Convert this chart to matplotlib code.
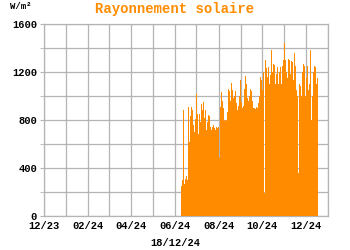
import pandas as pd
import matplotlib
matplotlib.use('Agg')
import matplotlib.pyplot as plt
import matplotlib.dates as mdates
import matplotlib.transforms as mtransforms
from matplotlib.ticker import MultipleLocator

# Daily solar radiation (W/m2), one value per day from 9 June 2024
start_day = '2024-06-09'
rayonnement = [
    790, 250, 300, 280, 880, 270, 310, 290, 330, 300,
    910, 950, 620, 830, 280, 910, 880, 760, 870, 700,
    810, 760, 1020, 850, 680, 700, 850, 780, 860, 930,
    880, 950, 900, 820, 880, 760, 720, 780, 840, 760,
    830, 740, 760, 720, 740, 760, 720, 730, 720, 750,
    740, 730, 740, 730, 480, 910, 850, 1030, 960, 900,
    840, 800, 790, 830, 800, 870, 1060, 990, 1040, 960,
    1000, 1110, 1050, 980, 1030, 1000, 1040, 230, 940, 880,
    920, 860, 1000, 1130, 960, 950, 900, 920, 880, 1060,
    1170, 1000, 1100, 980, 960, 200, 1000, 1060, 970, 1040,
    960, 900, 880, 900, 890, 880, 910, 900, 940, 930,
    1000, 1160, 1060, 1130, 1050, 1200, 1340, 190, 1300, 1150,
    1230, 1160, 1240, 1180, 1100, 1175, 1050, 1380, 1200, 1270,
    470, 1260, 1100, 1240, 1180, 1240, 1100, 1330, 1200, 1240,
    1100, 1480, 1250, 1300, 1150, 1440, 1300, 1200, 1280, 1150,
    1310, 1200, 1300, 1180, 1290, 1050, 1280, 1130, 1030, 1360,
    1250, 1050, 1130, 1000, 360, 1350, 1100, 1080, 1000, 1340,
    1200, 1270, 1100, 1250, 1000, 1150, 1410, 1250, 1050, 1240,
    1100, 1380, 800, 1270, 1000, 1200, 1410, 1250, 1240, 1100,
    1150, 1150,
]
days = pd.date_range(start_day, periods=len(rayonnement), freq='D')

x_start = pd.Timestamp('2023-12-01')
x_end = pd.Timestamp('2025-01-01')
y_max = 1600

font = 'Liberation Mono'
grid_col = '#b4b4b4'

fig = plt.figure(figsize=(3.5, 2.5), dpi=100)
ax = fig.add_axes([44 / 350, 34 / 250, 284 / 350, 192 / 250])

ax.bar(days, rayonnement, width=1.0, align='edge', color='#ff8c00', linewidth=0, zorder=3)

ax.set_xlim(x_start, x_end)
ax.set_ylim(0, y_max)

ax.xaxis.set_major_locator(mdates.MonthLocator(bymonth=[2, 4, 6, 8, 10, 12]))
ax.xaxis.set_minor_locator(mdates.MonthLocator())
ax.xaxis.set_major_formatter(mdates.DateFormatter('%m/%y'))
ax.yaxis.set_major_locator(MultipleLocator(400))
ax.yaxis.set_minor_locator(MultipleLocator(200))

ax.grid(which='both', color=grid_col, linewidth=0.9, zorder=1)
ax.set_axisbelow(True)
for s in ax.spines.values():
    s.set_color(grid_col)
    s.set_linewidth(0.9)

ax.tick_params(axis='y', which='both', length=3, color=grid_col, pad=2)
ax.tick_params(axis='x', which='both', length=0, pad=3.5)
for lab in ax.get_xticklabels() + ax.get_yticklabels():
    lab.set_fontfamily(font)
    lab.set_fontweight('bold')
    lab.set_fontsize(7.5)

# lift the "0" label a little so it clears the first date label
zero_lab = ax.yaxis.get_major_ticks()[0].label1
zero_lab.set_transform(zero_lab.get_transform() +
                       mtransforms.ScaledTranslation(0, 2 / 100, fig.dpi_scale_trans))

fig.text(0.5, 0.965, 'Rayonnement solaire', ha='center', va='center',
         color='#ff8c00', fontsize=10, fontweight='bold', family=font)
fig.text(0.03, 0.975, 'W/m²', ha='left', va='center',
         fontsize=6.5, fontweight='bold', family=font)
fig.text(0.5, 0.03, '18/12/24', ha='center', va='center',
         fontsize=7.5, fontweight='bold', family=font)

fig.savefig('out.png', dpi=100)
